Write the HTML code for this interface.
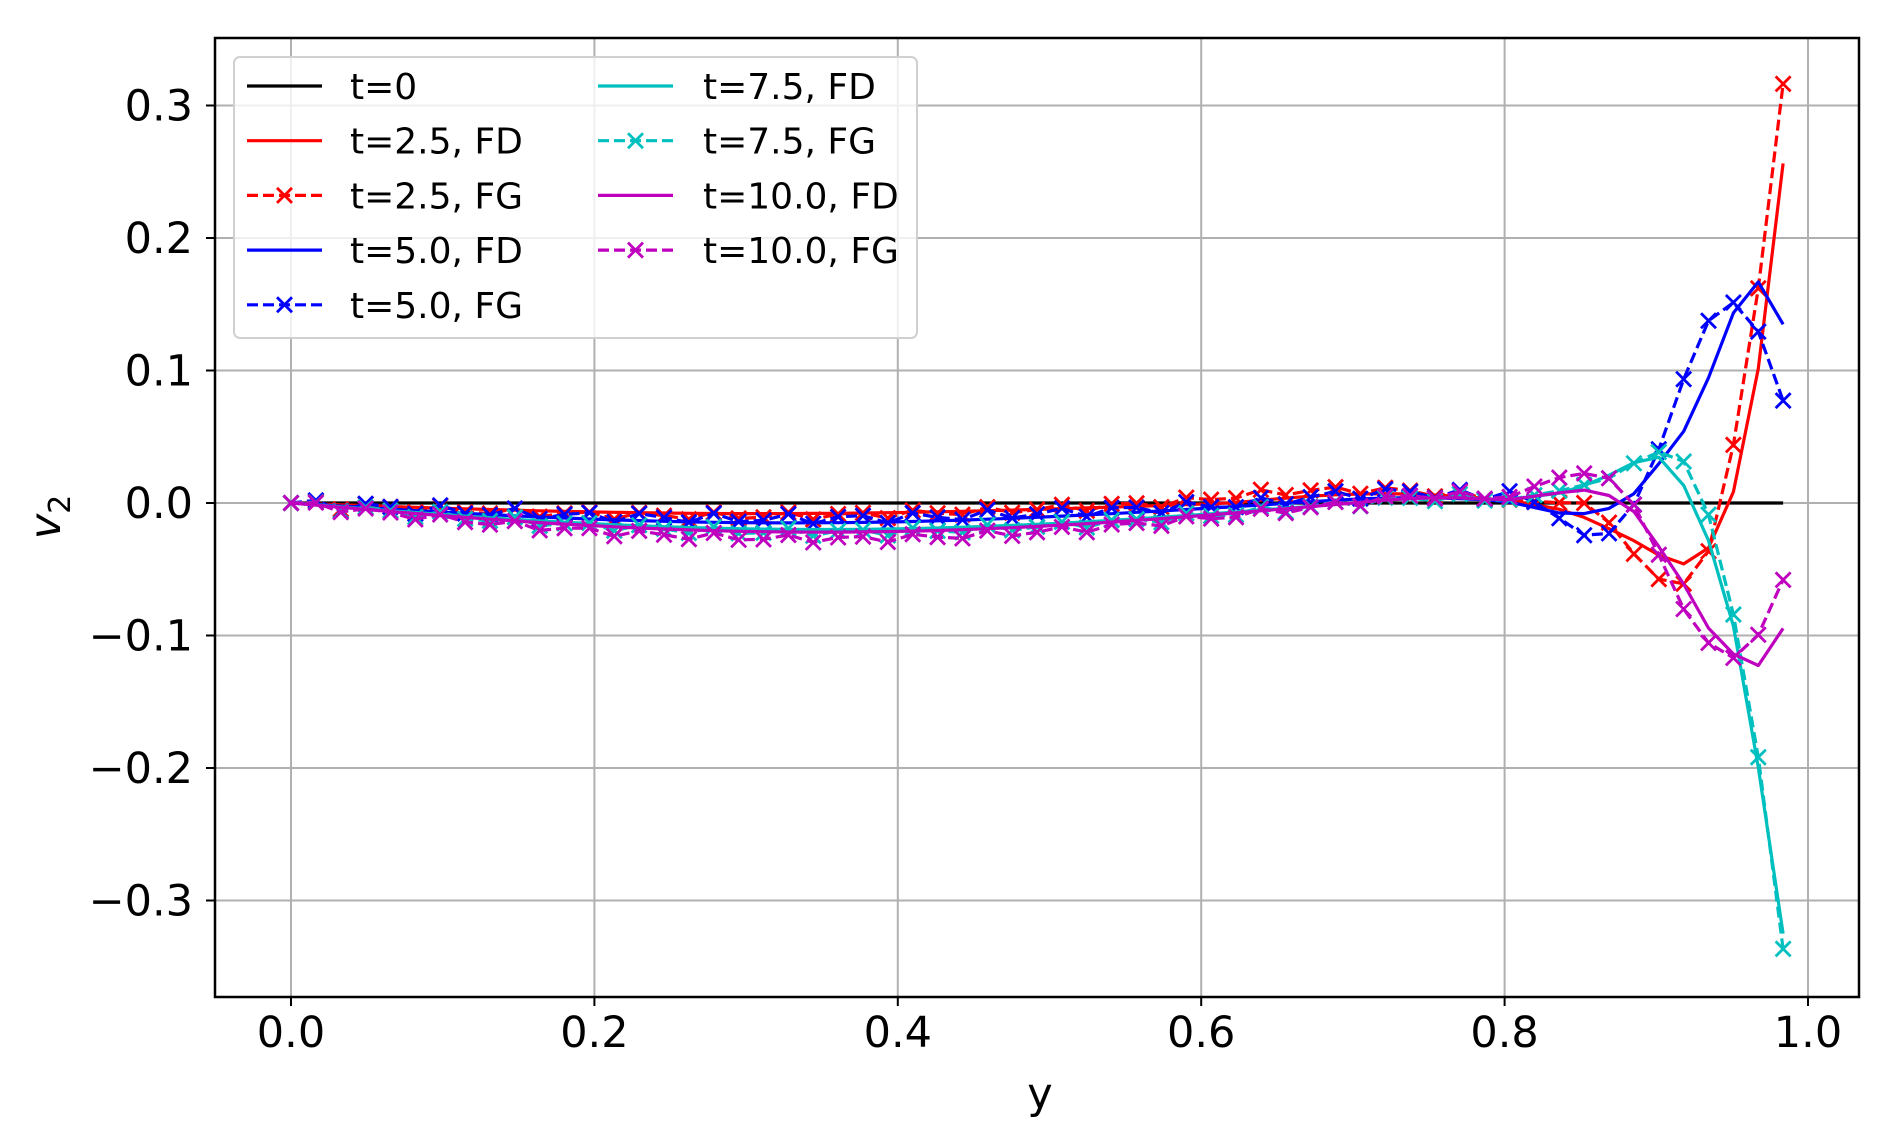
<!DOCTYPE html>
<html><head><meta charset="utf-8"><style>
html,body{margin:0;padding:0;background:#fff;}
svg{display:block;font-family:"DejaVu Sans","Liberation Sans",sans-serif;}
</style></head><body>
<svg id="s" width="1895" height="1136" xmlns="http://www.w3.org/2000/svg">
<rect width="1895" height="1136" fill="#fff"/>
<g id="grid" stroke="#b0b0b0" stroke-width="2"></g>
<g id="plot"></g>
<rect x="215" y="38" width="1644" height="959" fill="none" stroke="#000" stroke-width="2.5"/>
<g id="ticks" stroke="#000" stroke-width="2"></g>
<g id="labels" font-size="43" fill="#000"></g>
<text x="1040" y="1108" font-size="43" text-anchor="middle">y</text>
<text transform="translate(60,517) rotate(-90)" font-size="43" text-anchor="middle"><tspan font-style="italic">v</tspan><tspan font-size="30" dy="10">2</tspan></text>
<g id="legend"></g>
</svg>
<script>
var NS="http://www.w3.org/2000/svg";
function X(d){return 291+d*1517;}
function Y(v){return 503-v*1325;}
function el(p,t,a){var e=document.createElementNS(NS,t);for(var k in a)e.setAttribute(k,a[k]);p.appendChild(e);return e;}
var grid=document.getElementById('grid'),ticks=document.getElementById('ticks'),labels=document.getElementById('labels');
[0,0.2,0.4,0.6,0.8,1.0].forEach(function(d){var x=X(d);el(grid,'line',{x1:x,x2:x,y1:38,y2:997});el(ticks,'line',{x1:x,x2:x,y1:997,y2:1006});var t=el(labels,'text',{x:x,y:1047,'text-anchor':'middle'});t.textContent=d.toFixed(1);});
[-0.3,-0.2,-0.1,0,0.1,0.2,0.3].forEach(function(v){var y=Y(v);el(grid,'line',{x1:215,x2:1859,y1:y,y2:y});el(ticks,'line',{x1:206,x2:215,y1:y,y2:y});var t=el(labels,'text',{x:193,y:y+15,'text-anchor':'end'});t.textContent=(v<0?'\u2212':'')+Math.abs(v).toFixed(1);});
function base(y,A,B,z){if(y<=z)return -A*Math.sin(Math.PI*y/z);var w=0.82-z;if(y<=0.82)return B*Math.sin(Math.PI*(y-z)/w);return 0;}
function mk(A,B,z,tab,noise){var pts=[];var t=[[0.8,base(0.8,A,B,z)]].concat(tab);
for(var i=0;i<=60;i++){var y=i/61,v;if(y<=0.8){v=base(y,A,B,z);if(noise)v+=noise*Math.sin(i*2.3)*(i>0?1:0);}else{for(var j=0;j<t.length-1;j++){if(y>=t[j][0]&&y<=t[j+1][0])break;}if(j>=t.length-1)j=t.length-2;var a=t[j],b=t[j+1];v=a[1]+(b[1]-a[1])*(y-a[0])/(b[0]-a[0]);}pts.push([y,v]);}return pts;}
var S=[
{c:'#000',d:false,p:(function(){var a=[];for(var i=0;i<=60;i++)a.push([i/61,0]);return a;})()},
{c:'#ff0000',d:false,p:mk(0.008,0.007,0.62,[[0.825,-0.002],[0.845,-0.007],[0.87,-0.02],[0.888,-0.03],[0.91,-0.045],[0.918,-0.046],[0.937,-0.032],[0.95,0.004],[0.966,0.09],[0.984,0.26]])},
{c:'#ff0000',d:true,p:mk(0.01,0.01,0.58,[[0.84,0],[0.857,0],[0.873,-0.02],[0.889,-0.044],[0.905,-0.061],[0.918,-0.061],[0.936,-0.034],[0.95,0.038],[0.967,0.16],[0.984,0.32]],0.003)},
{c:'#0000ff',d:false,p:mk(0.015,0.004,0.66,[[0.838,-0.008],[0.859,-0.008],[0.874,-0.002],[0.889,0.01],[0.907,0.038],[0.92,0.057],[0.935,0.096],[0.951,0.144],[0.968,0.168],[0.984,0.134]])},
{c:'#0000ff',d:true,p:mk(0.012,0.008,0.64,[[0.797,0.012],[0.827,-0.003],[0.843,-0.018],[0.858,-0.028],[0.873,-0.021],[0.889,0.005],[0.905,0.05],[0.92,0.1],[0.935,0.139],[0.953,0.153],[0.967,0.13],[0.984,0.076]],0.004)},
{c:'#00bfbf',d:false,p:mk(0.02,0.004,0.7,[[0.84,0.008],[0.862,0.017],[0.888,0.032],[0.904,0.035],[0.914,0.021],[0.925,0],[0.938,-0.039],[0.953,-0.102],[0.967,-0.198],[0.984,-0.328]])},
{c:'#00bfbf',d:true,p:mk(0.022,0.004,0.7,[[0.84,0.01],[0.857,0.015],[0.873,0.02],[0.889,0.033],[0.905,0.04],[0.92,0.03],[0.936,-0.013],[0.951,-0.085],[0.967,-0.19],[0.984,-0.34]],0.003)},
{c:'#bf00bf',d:false,p:mk(0.022,0.004,0.7,[[0.838,0.008],[0.855,0.01],[0.874,0.004],[0.889,-0.01],[0.905,-0.039],[0.922,-0.068],[0.938,-0.102],[0.953,-0.116],[0.967,-0.123],[0.984,-0.094]])},
{c:'#bf00bf',d:true,p:mk(0.027,0.006,0.7,[[0.825,0.015],[0.841,0.021],[0.858,0.023],[0.873,0.017],[0.889,-0.007],[0.904,-0.045],[0.918,-0.08],[0.936,-0.108],[0.951,-0.117],[0.967,-0.1],[0.984,-0.057]],0.003)}
];
var plot=document.getElementById('plot');
function xm(g,x,y,c){var r=7.5;el(g,'path',{d:'M'+(x-r)+' '+(y-r)+'L'+(x+r)+' '+(y+r)+'M'+(x-r)+' '+(y+r)+'L'+(x+r)+' '+(y-r),stroke:c,'stroke-width':2.8,fill:'none'});}
S.forEach(function(s){var d=s.p.map(function(p,i){return (i?'L':'M')+X(p[0]).toFixed(1)+' '+Y(p[1]).toFixed(1);}).join('');
var a={d:d,stroke:s.c,'stroke-width':3.2,fill:'none','stroke-linejoin':'round'};if(s.d){a['stroke-dasharray']='11,5';}el(plot,'path',a);
if(s.d)s.p.forEach(function(p){xm(plot,X(p[0]),Y(p[1]),s.c);});});
var lg=document.getElementById('legend');
el(lg,'rect',{x:234,y:57,width:683,height:281,rx:6,fill:'#fff','fill-opacity':0.8,stroke:'#d0d0d0','stroke-width':2});
var L=[['t=0',0],['t=2.5, FD',1],['t=2.5, FG',2],['t=5.0, FD',3],['t=5.0, FG',4],['t=7.5, FD',5],['t=7.5, FG',6],['t=10.0, FD',7],['t=10.0, FG',8]];
L.forEach(function(l,i){var col=i<5?0:1,row=i<5?i:i-5;var y=86+row*54.7;var x0=col?598:247;var s=S[l[1]];
var a={x1:x0,x2:x0+75,y1:y,y2:y,stroke:s.c,'stroke-width':3.2};if(s.d)a['stroke-dasharray']='11,5';el(lg,'line',a);if(s.d)xm(lg,x0+37.5,y,s.c);
var t=el(lg,'text',{x:col?703:350,y:y+13,'font-size':36});t.textContent=l[0];});
</script>
</body></html>
